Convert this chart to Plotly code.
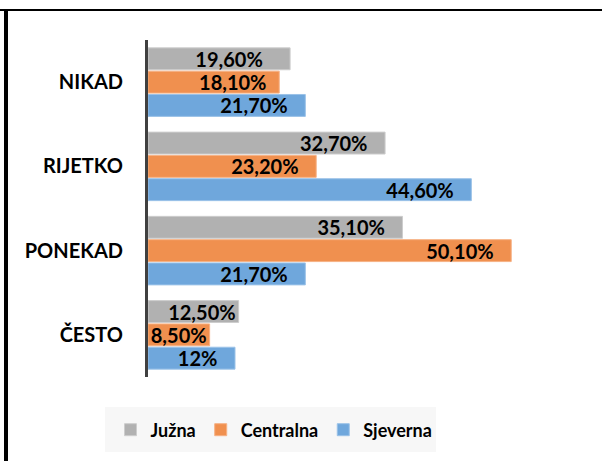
import plotly.graph_objects as go

categories = ["NIKAD", "RIJETKO", "PONEKAD", "ČESTO"]
series_names = ["Južna", "Centralna", "Sjeverna"]
juzna = [19.6, 32.7, 35.1, 12.5]
centralna = [18.1, 23.2, 50.1, 8.5]
sjeverna = [21.7, 44.6, 21.7, 12]
juzna_labels = ["19,60%", "32,70%", "35,10%", "12,50%"]
centralna_labels = ["18,10%", "23,20%", "50,10%", "8,50%"]
sjeverna_labels = ["21,70%", "44,60%", "21,70%", "12%"]

# styling: right padding (in non-breaking spaces) of each label inside its bar
label_pad = [[5, 3, 3, 0], [2, 3, 3, 0], [3, 3, 3, 3]]

colors = ["#B1B1B1", "#F0904F", "#6FA7DC"]
edges = ["#CDCDCD", "#F6B184", "#9BC2E8"]

FONT = "Lato"
W, H = 602, 461
L, R, T, B = 148, 19, 40, 84
pw, ph = W - L - R, H - T - B

def px(p):
    return (p - L) / pw

def py(q):
    return (H - B - q) / ph

fig = go.Figure()
for name, vals, labs, pads, c, e in zip(series_names, [juzna, centralna, sjeverna],
                                        [juzna_labels, centralna_labels, sjeverna_labels],
                                        label_pad, colors, edges):
    fig.add_trace(go.Bar(
        y=categories, x=vals, name=name, orientation="h",
        marker=dict(color=c, line=dict(color=e, width=1)),
        text=labs, texttemplate=["%{text}" + "\u00a0" * n for n in pads],
        textposition="inside", insidetextanchor="end",
        constraintext="none", cliponaxis=False,
        textfont=dict(family=FONT, size=20, color="black", weight="bold"),
        hoverinfo="skip",
    ))

shapes = [
    dict(type="rect", xref="paper", yref="paper", x0=px(105), x1=px(436), y0=py(407), y1=py(452),
         fillcolor="#F7F7F7", line=dict(width=0), layer="below"),
    dict(type="line", xref="paper", yref="paper", x0=px(0), x1=px(602), y0=py(10), y1=py(10),
         line=dict(color="black", width=2)),
    dict(type="line", xref="paper", yref="paper", x0=px(6), x1=px(6), y0=py(10), y1=py(461),
         line=dict(color="black", width=4)),
]

fig.update_layout(
    width=W, height=H,
    margin=dict(l=L, r=R, t=T, b=B, autoexpand=False),
    paper_bgcolor="white", plot_bgcolor="white",
    barmode="group", bargap=0.17, bargroupgap=0.06,
    xaxis=dict(range=[0, 60], visible=False, fixedrange=True, automargin=False),
    yaxis=dict(categoryorder="array", categoryarray=categories, autorange="reversed",
               showline=True, linecolor="#404040", linewidth=3, showgrid=False,
               ticks="", ticklabelstandoff=18, automargin=False, fixedrange=True,
               tickfont=dict(family=FONT, size=20, color="black", weight="bold")),
    showlegend=True,
    legend=dict(orientation="h", x=px(274), xanchor="center", y=py(430), yanchor="middle",
                bgcolor="rgba(0,0,0,0)", font=dict(family=FONT, size=18, color="black", weight="bold"),
                itemwidth=30, traceorder="normal"),
    shapes=shapes,
)

fig.write_html("out.html", config={"displayModeBar": False},
               post_script="document.body.style.margin='0';document.body.style.overflow='hidden';")
